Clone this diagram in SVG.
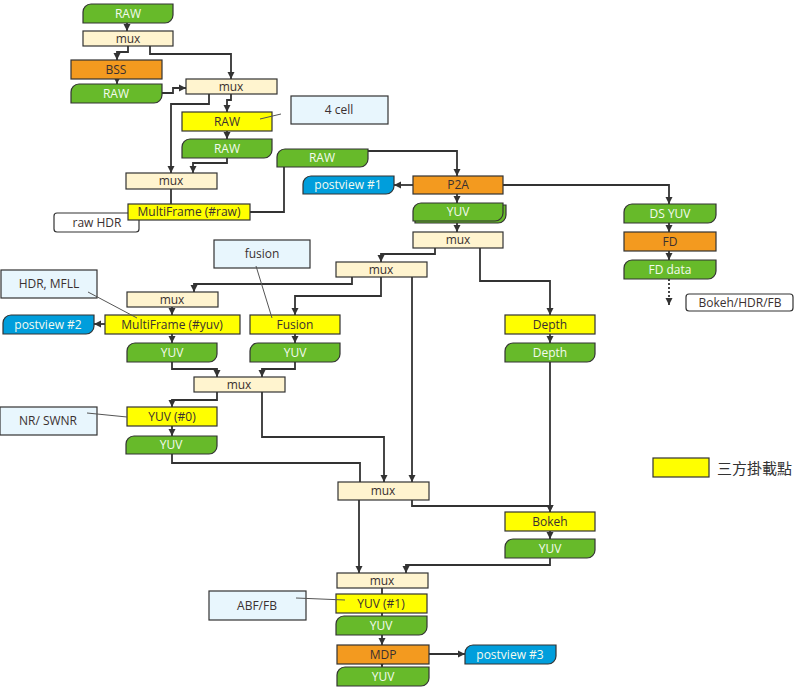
<svg xmlns="http://www.w3.org/2000/svg" width="802" height="692" viewBox="0 0 802 692">
<defs>
<marker id="ah" markerUnits="userSpaceOnUse" markerWidth="8" markerHeight="8" refX="7" refY="4" orient="auto">
<path d="M0,0.5 L7,4 L0,7.5 z" fill="#333"/>
</marker>
<style>
.g{fill:#67BA2A;stroke:#333;stroke-width:1.2}
.o{fill:#F39A1F;stroke:#333;stroke-width:1.2}
.y{fill:#FFFF00;stroke:#333;stroke-width:1.2}
.m{fill:#FFF4CF;stroke:#333;stroke-width:1.2}
.b{fill:#009EDC;stroke:#333;stroke-width:1.2}
.n{fill:#E8F6FD;stroke:#333;stroke-width:1.2}
.w{fill:#FFFFFF;stroke:#333;stroke-width:1.2}
text{font-family:"Open Sans","Noto Sans",sans-serif;font-size:12px;text-anchor:middle;fill:#3a3030}
.lt{fill:#F4FBEF}
.c path,.c line{fill:none;stroke:#333;stroke-width:1.8}
.a{fill:none;stroke:#555;stroke-width:1}
</style>
</defs>
<rect width="802" height="692" fill="#fff"/>

<g class="c" id="connectors">
<path d="M127,23 V31" marker-end="url(#ah)"/>
<path d="M128,46 V52 H117 V60" marker-end="url(#ah)"/>
<path d="M150,46 V54 H231 V79" marker-end="url(#ah)"/>
<path d="M117,79 V84" marker-end="url(#ah)"/>
<path d="M162,93 H173 V88 H186" marker-end="url(#ah)"/>
<path d="M209,94 V104 H171 V173" marker-end="url(#ah)"/>
<path d="M231,94 V100 H227 V112" marker-end="url(#ah)"/>
<path d="M227,131 V139" marker-end="url(#ah)"/>
<path d="M227,158 V163 H193 V173" marker-end="url(#ah)"/>
<path d="M171,189 V204"/>
<path d="M250,212 H284 V167"/>
<path d="M368,151 H457 V176" marker-end="url(#ah)"/>
<path d="M413,185 H394" marker-end="url(#ah)"/>
<path d="M457,194 V203" marker-end="url(#ah)"/>
<path d="M457,223 V232" marker-end="url(#ah)"/>
<path d="M503,185 H669 V204" marker-end="url(#ah)"/>
<path d="M669,223 V232" marker-end="url(#ah)"/>
<path d="M669,251 V260" marker-end="url(#ah)"/>
<path d="M669,279 V305" stroke-dasharray="2,2" marker-end="url(#ah)"/>
<path d="M435,248 V254 H381 V262" marker-end="url(#ah)"/>
<path d="M480,248 V281 H550 V315" marker-end="url(#ah)"/>
<path d="M550,334 V343" marker-end="url(#ah)"/>
<path d="M550,362 V512" marker-end="url(#ah)"/>
<path d="M352,277 V284 H194 V292" marker-end="url(#ah)"/>
<path d="M381,277 V296 H295 V315" marker-end="url(#ah)"/>
<path d="M412,277 V482" marker-end="url(#ah)"/>
<path d="M172,307 V315" marker-end="url(#ah)"/>
<path d="M105,324 H94" marker-end="url(#ah)"/>
<path d="M172,334 V343" marker-end="url(#ah)"/>
<path d="M295,334 V343" marker-end="url(#ah)"/>
<path d="M172,362 V369 H217 V377" marker-end="url(#ah)"/>
<path d="M295,362 V369 H262 V377" marker-end="url(#ah)"/>
<path d="M217,392 V400 H172 V407" marker-end="url(#ah)"/>
<path d="M172,426 V436" marker-end="url(#ah)"/>
<path d="M262,392 V437 H384 V482" marker-end="url(#ah)"/>
<path d="M172,454 V463 H360 V482"/>
<path d="M412,500 V506 H550 V512" marker-end="url(#ah)"/>
<path d="M550,531 V539" marker-end="url(#ah)"/>
<path d="M550,558 V565 H406 V573" marker-end="url(#ah)"/>
<path d="M359,500 V573" marker-end="url(#ah)"/>
<path d="M382,588 V594"/>
<path d="M382,613 V616"/>
<path d="M382,635 V645" marker-end="url(#ah)"/>
<path d="M382,660 V667" marker-end="url(#ah)"/>
<path d="M429,654 H465" marker-end="url(#ah)"/>
</g>

<g id="raw1"><path class="g" d="M91,4 H173 V15 A8,8 0 0 1 165,23 H83 V12 A8,8 0 0 1 91,4 Z"/><text class="lt" x="128" y="18">RAW</text></g>
<g id="mux1"><rect class="m" x="83" y="31" width="90" height="15"/><text x="128" y="43">mux</text></g>
<g id="bss"><rect class="o" x="71" y="60" width="91" height="19"/><text x="116" y="74">BSS</text></g>
<g id="raw2"><path class="g" d="M79,84 H162 V95 A8,8 0 0 1 154,103 H71 V92 A8,8 0 0 1 79,84 Z"/><text class="lt" x="116" y="98">RAW</text></g>
<g id="mux2"><rect class="m" x="186" y="79" width="91" height="15"/><text x="231" y="91">mux</text></g>
<g id="raw3y"><rect class="y" x="182" y="112" width="90" height="19"/><text x="227" y="126">RAW</text></g>
<g id="raw3g"><path class="g" d="M190,139 H272 V150 A8,8 0 0 1 264,158 H182 V147 A8,8 0 0 1 190,139 Z"/><text class="lt" x="227" y="153">RAW</text></g>
<g id="mux3"><rect class="m" x="126" y="173" width="91" height="16"/><text x="171" y="185">mux</text></g>
<g id="rawhdr"><rect class="w" x="54" y="213" width="85" height="19" rx="3"/><text x="97" y="227">raw HDR</text></g>
<g id="mfraw"><rect class="y" x="128" y="204" width="122" height="16"/><text x="189" y="216">MultiFrame (#raw)</text></g>
<g id="cell4"><rect class="n" x="291" y="96" width="97" height="28"/><text x="339" y="114">4 cell</text></g>
<g id="raw4"><path class="g" d="M285,149 H368 V159 A8,8 0 0 1 360,167 H277 V157 A8,8 0 0 1 285,149 Z"/><text class="lt" x="322" y="162">RAW</text></g>
<g id="p2a"><rect class="o" x="413" y="176" width="90" height="18"/><text x="458" y="189">P2A</text></g>
<g id="pv1"><path class="b" d="M311,176 H394 V186 A8,8 0 0 1 386,194 H303 V184 A8,8 0 0 1 311,176 Z"/><text class="lt" x="348" y="189">postview #1</text></g>
<g id="yuvp"><path class="g" d="M423,205 H506 V215 A8,8 0 0 1 498,223 H415 V213 A8,8 0 0 1 423,205 Z"/><path class="g" d="M421,203 H503 V213 A8,8 0 0 1 495,221 H413 V211 A8,8 0 0 1 421,203 Z"/><text class="lt" x="458" y="216">YUV</text></g>
<g id="mux4"><rect class="m" x="413" y="232" width="90" height="16"/><text x="458" y="244">mux</text></g>
<g id="dsyuv"><path class="g" d="M632,204 H716 V215 A8,8 0 0 1 708,223 H624 V212 A8,8 0 0 1 632,204 Z"/><text class="lt" x="670" y="218">DS YUV</text></g>
<g id="fd"><rect class="o" x="624" y="232" width="92" height="19"/><text x="670" y="246">FD</text></g>
<g id="fddata"><path class="g" d="M632,260 H716 V271 A8,8 0 0 1 708,279 H624 V268 A8,8 0 0 1 632,260 Z"/><text class="lt" x="670" y="274">FD data</text></g>
<g id="bokehhdr"><rect class="w" x="686" y="294" width="107" height="17" rx="3"/><text x="740" y="307">Bokeh/HDR/FB</text></g>
<g id="mux8"><rect class="m" x="336" y="262" width="91" height="15"/><text x="381" y="274">mux</text></g>
<g id="fusionnote"><rect class="n" x="214" y="240" width="96" height="28"/><text x="262" y="258">fusion</text></g>
<g id="hdrnote"><rect class="n" x="1" y="270" width="96" height="28"/><text x="49" y="288">HDR, MFLL</text></g>
<g id="mux5"><rect class="m" x="127" y="292" width="91" height="15"/><text x="172" y="304">mux</text></g>
<g id="mfyuv"><rect class="y" x="105" y="315" width="135" height="19"/><text x="172" y="329">MultiFrame (#yuv)</text></g>
<g id="pv2"><path class="b" d="M11,315 H94 V326 A8,8 0 0 1 86,334 H3 V323 A8,8 0 0 1 11,315 Z"/><text class="lt" x="48" y="329">postview #2</text></g>
<g id="fusion"><rect class="y" x="250" y="315" width="90" height="19"/><text x="295" y="329">Fusion</text></g>
<g id="yuvL"><path class="g" d="M135,343 H217 V354 A8,8 0 0 1 209,362 H127 V351 A8,8 0 0 1 135,343 Z"/><text class="lt" x="172" y="357">YUV</text></g>
<g id="yuvF"><path class="g" d="M258,343 H340 V354 A8,8 0 0 1 332,362 H250 V351 A8,8 0 0 1 258,343 Z"/><text class="lt" x="295" y="357">YUV</text></g>
<g id="depthY"><rect class="y" x="505" y="315" width="90" height="19"/><text x="550" y="329">Depth</text></g>
<g id="depthG"><path class="g" d="M513,343 H595 V354 A8,8 0 0 1 587,362 H505 V351 A8,8 0 0 1 513,343 Z"/><text class="lt" x="550" y="357">Depth</text></g>
<g id="mux6"><rect class="m" x="194" y="377" width="91" height="15"/><text x="239" y="389">mux</text></g>
<g id="yuv0"><rect class="y" x="127" y="407" width="90" height="19"/><text x="172" y="421">YUV (#0)</text></g>
<g id="nrnote"><rect class="n" x="0" y="407" width="97" height="28"/><text x="48" y="425">NR/ SWNR</text></g>
<g id="yuv0g"><path class="g" d="M134,436 H217 V446 A8,8 0 0 1 209,454 H126 V444 A8,8 0 0 1 134,436 Z"/><text class="lt" x="171" y="449">YUV</text></g>
<g id="mux7"><rect class="m" x="338" y="482" width="91" height="18"/><text x="383" y="495">mux</text></g>
<g id="bokeh"><rect class="y" x="505" y="512" width="90" height="19"/><text x="550" y="526">Bokeh</text></g>
<g id="bokehyuv"><path class="g" d="M513,539 H595 V550 A8,8 0 0 1 587,558 H505 V547 A8,8 0 0 1 513,539 Z"/><text class="lt" x="550" y="553">YUV</text></g>
<g id="mux9"><rect class="m" x="337" y="573" width="91" height="15"/><text x="382" y="585">mux</text></g>
<g id="abfnote"><rect class="n" x="209" y="591" width="97" height="29"/><text x="257" y="610">ABF/FB</text></g>
<g id="yuv1"><rect class="y" x="336" y="594" width="91" height="19"/><text x="381" y="608">YUV (#1)</text></g>
<g id="yuv1g"><path class="g" d="M344,616 H427 V627 A8,8 0 0 1 419,635 H336 V624 A8,8 0 0 1 344,616 Z"/><text class="lt" x="381" y="630">YUV</text></g>
<g id="mdp"><rect class="o" x="337" y="645" width="92" height="19"/><text x="383" y="659">MDP</text></g>
<g id="mdpyuv"><path class="g" d="M345,667 H429 V678 A8,8 0 0 1 421,686 H337 V675 A8,8 0 0 1 345,667 Z"/><text class="lt" x="383" y="681">YUV</text></g>
<g id="pv3"><path class="b" d="M473,645 H556 V656 A8,8 0 0 1 548,664 H465 V653 A8,8 0 0 1 473,645 Z"/><text class="lt" x="510" y="659">postview #3</text></g>

<g id="annotations">
<line class="a" x1="260" y1="119" x2="281" y2="114"/>
<line class="a" x1="88" y1="292" x2="137" y2="318"/>
<line class="a" x1="256" y1="266" x2="272" y2="318"/>
<line class="a" x1="87" y1="413" x2="127" y2="417"/>
<line class="a" x1="296" y1="598" x2="345" y2="600"/>
</g>

<g id="legend">
<rect class="y" x="653" y="458" width="56" height="19"/>
<text x="717" y="474" style="text-anchor:start;font-size:15px;font-family:'Noto Sans CJK TC','Noto Sans CJK SC',sans-serif;fill:#333">三方掛載點</text>
</g>
</svg>
